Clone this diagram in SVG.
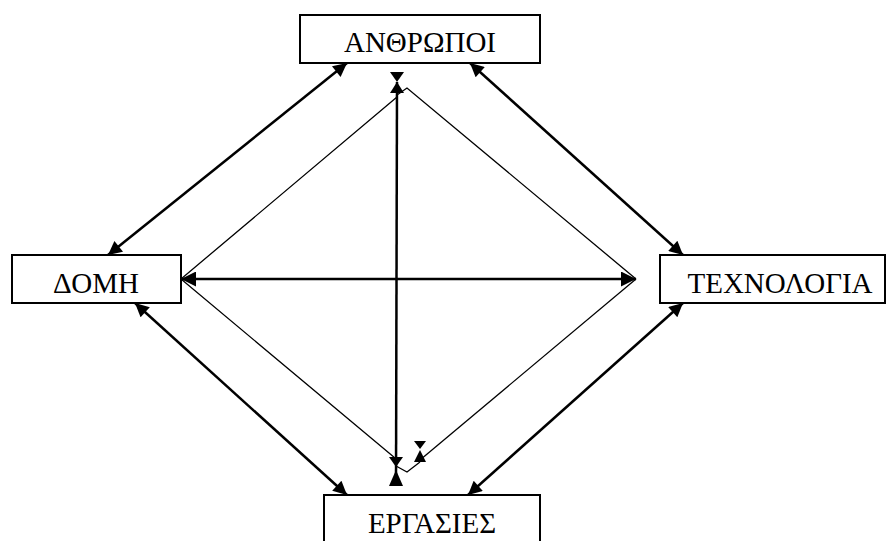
<svg xmlns="http://www.w3.org/2000/svg" width="889" height="541" viewBox="0 0 889 541">
  <style>
    .box { fill: #ffffff; stroke: #000000; stroke-width: 2; }
    .label { font-family: "Liberation Serif", "DejaVu Serif", serif; font-size: 29px; fill: #000000; text-anchor: middle; }
    .arrow { fill: none; stroke: #000000; stroke-width: 2.5; }
    .thin { fill: none; stroke: #000000; stroke-width: 1.3; }
    .head { fill: #000000; stroke: none; }
  </style>
  <defs>
    <marker id="tip" viewBox="0 0 10 10" refX="10" refY="5" markerWidth="7" markerHeight="5.5" markerUnits="strokeWidth" orient="auto-start-reverse">
      <path d="M0,0 L10,5 L0,10 Z" fill="#000000"/>
    </marker>
    <marker id="tip-h" viewBox="0 0 10 10" refX="10" refY="5" markerWidth="8" markerHeight="6" markerUnits="strokeWidth" orient="auto-start-reverse">
      <path d="M0,0 L10,5 L0,10 Z" fill="#000000"/>
    </marker>
  </defs>

  <g id="connectors">
    <!-- outer double arrows between neighbouring boxes -->
    <line class="arrow" x1="347" y1="63" x2="108" y2="255" marker-start="url(#tip)" marker-end="url(#tip)"/>
    <line class="arrow" x1="470" y1="63" x2="683" y2="255" marker-start="url(#tip)" marker-end="url(#tip)"/>
    <line class="arrow" x1="135" y1="303" x2="347" y2="495" marker-start="url(#tip)" marker-end="url(#tip)"/>
    <line class="arrow" x1="683" y1="303" x2="468" y2="495" marker-start="url(#tip)" marker-end="url(#tip)"/>

    <!-- horizontal double arrow across the middle -->
    <line class="arrow" x1="181" y1="279" x2="636" y2="279" stroke-width="2" marker-start="url(#tip-h)" marker-end="url(#tip-h)"/>

    <!-- inner diamond -->
    <polyline class="thin" points="397,97 181,279 395,458"/>
    <polyline class="thin" points="397,95 407,88 636,279"/>
    <polyline class="thin" points="636,279 420,460"/>
    <polyline class="thin" points="396,466 407,472 420,462"/>

    <!-- vertical line through the centre -->
    <line class="arrow" x1="397" y1="82" x2="396" y2="484" stroke-width="2.2"/>

    <!-- top hourglass -->
    <polygon class="head" points="390,72 404,72 397,82"/>
    <polygon class="head" points="397,82 404,93 390,93"/>
    <!-- bottom hourglass -->
    <polygon class="head" points="389,457 403,457 396,467"/>
    <polygon class="head" points="396,470 403,486 389,486"/>
    <!-- small hourglass on the right -->
    <polygon class="head" points="414,441 426,441 420,449"/>
    <polygon class="head" points="420,450 426,462 414,462"/>
  </g>

  <g id="node-anthropoi">
    <rect class="box" x="300" y="15" width="240" height="48"/>
    <text class="label" x="420" y="52" font-family="Liberation Serif, serif">ΑΝΘΡΩΠΟΙ</text>
  </g>
  <g id="node-domi">
    <rect class="box" x="12" y="255" width="169" height="48"/>
    <text class="label" x="96" y="293" font-family="Liberation Serif, serif">ΔΟΜΗ</text>
  </g>
  <g id="node-technologia">
    <rect class="box" x="660" y="255" width="225" height="48"/>
    <text class="label" x="780" y="293" font-family="Liberation Serif, serif">ΤΕΧΝΟΛΟΓΙΑ</text>
  </g>
  <g id="node-ergasies">
    <rect class="box" x="324" y="495" width="216" height="60"/>
    <text class="label" x="432" y="533" font-family="Liberation Serif, serif">ΕΡΓΑΣΙΕΣ</text>
  </g>
</svg>
